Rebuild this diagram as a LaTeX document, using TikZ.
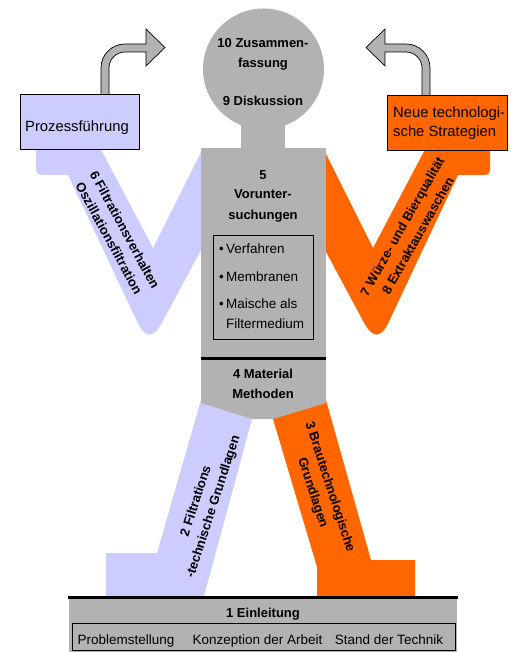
\documentclass[tikz,border=0pt]{standalone}
\usepackage{fontspec}
\setmainfont{Liberation Sans}
\definecolor{lila}{HTML}{CCCCFF}
\definecolor{orng}{HTML}{FF6600}
\definecolor{grau}{HTML}{B2B2B2}
\tikzset{
  titel/.style={font=\fontsize{13}{18}\selectfont\bfseries, inner sep=0pt},
  txt/.style={font=\fontsize{13.5}{19}\selectfont, inner sep=0pt},
  grosstxt/.style={font=\fontsize{14.8}{19}\selectfont, inner sep=0pt},
  kasten/.style={draw=black, line width=0.8pt},
  pfeil/.style={fill=grau, draw=black, line width=0.7pt},
  armform/.style={insert path={(96,140) -- (36,140) -- (36,169)
      .. controls (36,173) and (38,175) .. (42,175) -- (68,175) -- (137.1,321.7)
      .. controls (145.0,338.6) and (153.4,338.8) .. (162.2,322.3)
      -- (201,250) -- (212,250) -- (212,152) -- (201,152) -- (153,248) -- cycle}},
  pfeilform/.style={insert path={(101,96) -- (101,68)
      .. controls (101,54.75) and (111.75,44) .. (125,44) -- (146,44) -- (146,29)
      -- (165,47.5) -- (146,66) -- (146,52) -- (125,52)
      .. controls (116.2,52) and (109,59.2) .. (109,68) -- (109,96) -- cycle}}
}
\begin{document}
\begin{tikzpicture}[x=1pt, y=-1pt]
  \useasboundingbox (0,0) rectangle (512,652);

  % Beine
  \fill[lila] (201,400) -- (252,419) -- (204,596) -- (106,596) -- (106,553) -- (157,553) -- cycle;
  \fill[orng] (273,419) -- (326,400) -- (371,560) -- (415,560) -- (415,596) -- (317,596) -- (317,567) -- cycle;

  % Arme
  \path[fill=lila, armform];
  \begin{scope}[shift={(526,0)}, xscale=-1]
    \path[fill=orng, armform];
  \end{scope}

  % Pfeile
  \path[pfeil, pfeilform];
  \begin{scope}[shift={(531,0)}, xscale=-1]
    \path[pfeil, pfeilform];
  \end{scope}

  % Kopf, Hals, Rumpf
  \fill[grau] (263.5,69) circle (60.5);
  \fill[grau] (241,118) rectangle (285,149);
  \fill[grau] (201,148) rectangle (326,358);
  \fill[grau] (201,358) -- (326,358) -- (326,403) -- (273,419) -- (252,419) -- (201,403) -- cycle;
  \draw[line width=3pt] (201,358) -- (326,358);

  \node[titel, anchor=base] (zus) at (263,48) {10 Zusammen-};
  \node[titel, anchor=base] (fas) at (263,68) {fassung};
  \node[titel, anchor=base] (dis) at (263,106) {9 Diskussion};

  \node[titel, anchor=base] (fuenf) at (263,180) {5};
  \node[titel, anchor=base] (vor) at (263,199) {Vorunter-};
  \node[titel, anchor=base] (such) at (263,219) {suchungen};

  \draw[kasten] (213,235) rectangle (313,339);
  \node[txt, anchor=base west] (verf) at (219,253) {\textbullet\,Verfahren};
  \node[txt, anchor=base west] (memb) at (219,281) {\textbullet\,Membranen};
  \node[txt, anchor=base west] (mais) at (219,308) {\textbullet\,Maische als};
  \node[txt, anchor=base west] (filt) at (226,328) {Filtermedium};

  \node[titel, anchor=base] (mat) at (263,378) {4 Material};
  \node[titel, anchor=base] (meth) at (263,398) {Methoden};

  % Kaesten oben
  \node[kasten, fill=lila, minimum width=119pt, minimum height=55pt, inner sep=0pt] (proz) at (79.5,121.5) {};
  \node[grosstxt, anchor=base] (prozt) at (77,132) {Prozessführung};
  \node[kasten, fill=orng, minimum width=120pt, minimum height=55pt, inner sep=0pt] (neu) at (447,122.5) {};
  \node[grosstxt, anchor=base west] (neut1) at (393,118) {Neue technologi-};
  \node[grosstxt, anchor=base west] (neut2) at (393,137) {sche Strategien};

  % Beschriftung Arme und Beine
  \node[titel, align=center, rotate=-61.5] (kap6) at (117,234)
    {6 Filtrationsverhalten\\Oszillationsfiltration};
  \node[titel, align=center, rotate=60.5] (kap7) at (410,231)
    {7 Würze- und Bierqualität\\8 Extraktauswaschen};
  \node[titel, align=center, rotate=72] (kap2) at (205,504)
    {2 Filtrations\\-technische Grundlagen};
  \node[titel, align=center, rotate=-72] (kap3) at (321,490)
    {3 Brautechnologische\\Grundlagen};

  % Sockel
  \fill[grau] (69,597) rectangle (457,652);
  \draw[line width=3pt] (68,597) -- (458,597);
  \node[titel, anchor=base] (einl) at (263,617) {1 Einleitung};
  \draw[kasten] (72,623) rectangle (455,650);
  \node[txt, anchor=base] (prob) at (126,644) {Problemstellung};
  \node[txt, anchor=base] (konz) at (257.5,644) {Konzeption der Arbeit};
  \node[txt, anchor=base] (stand) at (389,644) {Stand der Technik};
\end{tikzpicture}
\end{document}
